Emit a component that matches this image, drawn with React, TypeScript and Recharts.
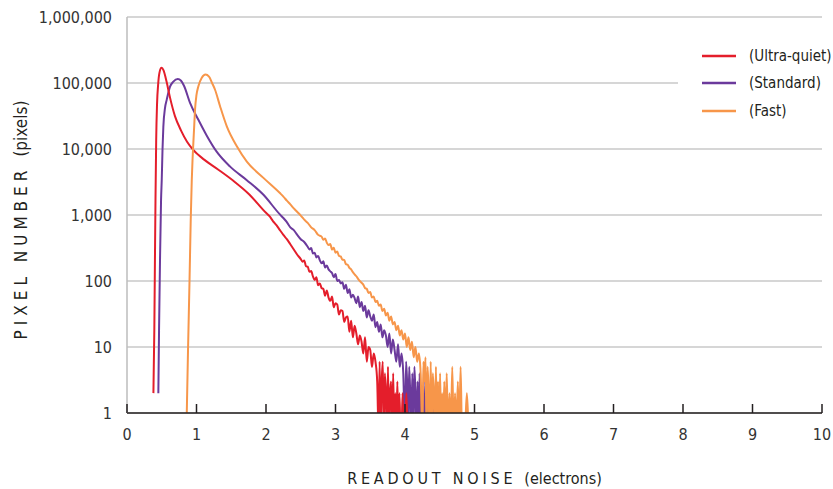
import { CartesianGrid, Legend, Line, LineChart, XAxis, YAxis } from 'recharts';

const FONT = "'Liberation Sans Narrow', 'Arial Narrow', 'DejaVu Sans Condensed', sans-serif";

const xTicks = [0, 1, 2, 3, 4, 5, 6, 7, 8, 9, 10];
const yTicks = [1, 10, 100, 1000, 10000, 100000, 1000000];

const seriesNames = ['(Ultra-quiet)', '(Standard)', '(Fast)'];
const seriesColors = ['#e41e2b', '#6b3a9c', '#f7964a'];

// [readout noise (e-), pixel count]; 0.5 stands in for an empty bin (below the axis)
const ultraQuiet: [number, number][] = [
  [0.38, 2], [0.393, 18], [0.402, 210], [0.41, 1700], [0.42, 13800], [0.432, 47000],
  [0.449, 98000], [0.468, 145000], [0.497, 170000], [0.526, 155000], [0.569, 105000],
  [0.619, 60000], [0.69, 31500], [0.778, 19000], [0.864, 12900], [0.95, 9800],
  [1.11, 6900], [1.31, 4900], [1.53, 3300], [1.76, 2050], [2.0, 1080],
  [2.05, 960], [2.1, 810], [2.15, 700], [2.2, 590], [2.25, 500], [2.3, 430], [2.35, 360],
  [2.4, 300], [2.45, 250], [2.5, 215], [2.525, 196], [2.55, 205], [2.575, 168], [2.6, 165],
  [2.625, 138], [2.65, 142], [2.675, 118], [2.7, 104], [2.725, 114], [2.75, 86], [2.775, 92],
  [2.8, 78], [2.825, 76], [2.85, 60], [2.875, 72], [2.9, 56], [2.925, 50], [2.95, 58],
  [2.975, 40], [3.0, 46], [3.025, 44], [3.05, 31], [3.075, 36], [3.1, 35], [3.125, 24],
  [3.15, 28], [3.175, 29], [3.2, 17], [3.225, 25], [3.25, 14], [3.275, 21], [3.3, 16],
  [3.325, 11], [3.35, 15], [3.375, 12], [3.4, 8], [3.425, 14], [3.45, 6], [3.475, 10],
  [3.5, 9], [3.525, 5], [3.55, 8], [3.575, 6], [3.6, 3], [3.62, 0.5], [3.635, 6],
  [3.65, 0.5], [3.665, 3], [3.68, 6], [3.695, 0.5], [3.71, 4], [3.725, 2], [3.74, 0.5],
  [3.755, 5], [3.77, 0.5], [3.785, 2], [3.8, 3], [3.815, 0.5], [3.83, 4], [3.845, 0.5],
  [3.86, 2], [3.875, 0.5], [3.89, 3], [3.905, 0.5], [3.92, 2], [3.935, 0.5], [3.95, 0.5],
  [3.965, 2], [3.98, 0.5], [4.0, 0.5], [4.02, 2], [4.04, 0.5],
];

const standard: [number, number][] = [
  [0.451, 2], [0.461, 18], [0.475, 210], [0.49, 1700], [0.5, 3450], [0.511, 9800],
  [0.523, 21800], [0.547, 42000], [0.572, 56000], [0.619, 88000], [0.667, 105000],
  [0.73, 115000], [0.778, 108000], [0.82, 91000], [0.907, 50000], [1.027, 27700],
  [1.148, 15900], [1.29, 9100], [1.48, 5450], [1.72, 3400], [1.96, 2040],
  [2.2, 1020], [2.25, 900], [2.3, 780], [2.35, 650], [2.4, 590], [2.45, 500], [2.5, 430],
  [2.55, 390], [2.6, 330], [2.625, 300], [2.65, 315], [2.675, 262], [2.7, 268], [2.725, 228],
  [2.75, 240], [2.775, 205], [2.8, 186], [2.825, 200], [2.85, 160], [2.875, 172], [2.9, 150],
  [2.925, 140], [2.95, 132], [2.975, 114], [3.0, 128], [3.025, 100], [3.05, 104], [3.075, 92],
  [3.1, 96], [3.125, 76], [3.15, 88], [3.175, 66], [3.2, 75], [3.225, 56], [3.25, 62],
  [3.275, 55], [3.3, 46], [3.325, 58], [3.35, 40], [3.375, 48], [3.4, 35], [3.425, 42],
  [3.45, 28], [3.475, 36], [3.5, 29], [3.525, 25], [3.55, 31], [3.575, 20], [3.6, 24],
  [3.625, 17], [3.65, 22], [3.675, 14], [3.7, 18], [3.725, 15], [3.75, 10], [3.775, 16],
  [3.8, 8], [3.825, 13], [3.85, 9], [3.875, 6], [3.9, 11], [3.925, 5], [3.95, 8], [3.975, 4],
  [4.0, 0.5], [4.015, 6], [4.03, 3], [4.045, 0.5], [4.06, 5], [4.075, 2], [4.09, 0.5],
  [4.105, 4], [4.12, 0.5], [4.135, 5], [4.15, 2], [4.165, 0.5], [4.18, 3], [4.195, 0.5],
  [4.21, 4], [4.225, 0.5], [4.24, 2], [4.255, 0.5], [4.27, 3], [4.285, 0.5], [4.3, 2],
  [4.315, 0.5], [4.33, 0.5], [4.345, 2], [4.36, 0.5], [4.38, 2], [4.4, 0.5], [4.43, 2],
  [4.45, 0.5],
];

const fast: [number, number][] = [
  [0.86, 1], [0.878, 9], [0.9, 105], [0.917, 850], [0.932, 3400], [0.943, 6900],
  [0.955, 12600], [0.968, 23400], [0.979, 39600], [1.0, 66000], [1.027, 89000],
  [1.076, 120000], [1.13, 134000], [1.18, 125000], [1.224, 100000], [1.267, 79000],
  [1.339, 44500], [1.436, 22000], [1.58, 11000], [1.724, 6450], [1.963, 3650],
  [2.2, 2150], [2.25, 1900], [2.3, 1650], [2.35, 1450], [2.4, 1260], [2.45, 1110], [2.5, 980],
  [2.55, 850], [2.6, 760], [2.65, 650], [2.7, 590], [2.75, 500], [2.8, 470], [2.825, 420],
  [2.85, 440], [2.875, 380], [2.9, 350], [2.925, 365], [2.95, 300], [2.975, 318], [3.0, 268],
  [3.025, 280], [3.05, 240], [3.075, 236], [3.1, 210], [3.125, 208], [3.15, 180], [3.175, 176],
  [3.2, 158], [3.225, 150], [3.25, 136], [3.275, 126], [3.3, 118], [3.325, 108], [3.35, 100],
  [3.375, 94], [3.4, 88], [3.425, 78], [3.45, 76], [3.475, 66], [3.5, 68], [3.525, 56],
  [3.55, 58], [3.575, 48], [3.6, 50], [3.625, 42], [3.65, 44], [3.675, 35], [3.7, 38],
  [3.725, 30], [3.75, 33], [3.775, 25], [3.8, 29], [3.825, 22], [3.85, 24], [3.875, 18],
  [3.9, 21], [3.925, 15], [3.95, 18], [3.975, 13], [4.0, 16], [4.025, 10], [4.05, 14],
  [4.075, 9], [4.1, 12], [4.125, 7], [4.15, 10], [4.175, 6], [4.2, 8], [4.225, 4],
  [4.25, 0.5], [4.265, 6], [4.28, 3], [4.295, 7], [4.31, 0.5], [4.325, 5], [4.34, 2],
  [4.355, 0.5], [4.37, 6], [4.385, 0.5], [4.4, 4], [4.415, 2], [4.43, 0.5], [4.445, 5],
  [4.46, 0.5], [4.475, 3], [4.49, 0.5], [4.505, 4], [4.52, 0.5], [4.535, 2], [4.55, 0.5],
  [4.565, 3], [4.58, 0.5], [4.6, 4], [4.62, 0.5], [4.64, 2], [4.66, 0.5], [4.68, 5],
  [4.7, 0.5], [4.72, 2], [4.74, 0.5], [4.76, 3], [4.78, 0.5], [4.8, 5], [4.82, 0.5],
  [4.86, 0.5], [4.89, 2], [4.92, 0.5], [4.94, 0.5],
];

const toPoints = (pairs: [number, number][]) => pairs.map(([x, y]) => ({ x, y }));

const XTick = ({ x, y, payload }: any) => (
  <g>
    <line x1={x} x2={x} y1={y} y2={y - 9} stroke="#231f20" strokeWidth={1.5} />
    <text x={x} y={y + 27} textAnchor="middle" fontSize={16} fill="#333" fontFamily={FONT}>
      {payload.value}
    </text>
  </g>
);

const XTitle = ({ viewBox }: any) => {
  const cx = viewBox.x + viewBox.width / 2;
  return (
    <text x={cx} y={484} textAnchor="middle" fontSize={16} fill="#231f20" fontFamily={FONT}>
      <tspan letterSpacing={3.8}>READOUT NOISE</tspan>
      <tspan dx={8}>(electrons)</tspan>
    </text>
  );
};

const YTitle = () => (
  <text
    x={27}
    y={220}
    transform="rotate(-90, 27, 220)"
    textAnchor="middle"
    fontSize={17}
    fill="#231f20"
    fontFamily={FONT}
  >
    <tspan letterSpacing={5}>PIXEL NUMBER</tspan>
    <tspan dx={9}>(pixels)</tspan>
  </text>
);

const LegendBox = () => (
  <div
    style={{
      background: '#fff',
      paddingLeft: 24,
      fontFamily: FONT,
      fontSize: 15,
      color: '#231f20',
      whiteSpace: 'nowrap',
    }}
  >
    {seriesNames.map((name, i) => (
      <div key={name} style={{ display: 'flex', alignItems: 'center', height: 27.5 }}>
        <svg width={34} height={4} style={{ marginRight: 13, flexShrink: 0 }}>
          <line x1={0} x2={34} y1={2} y2={2} stroke={seriesColors[i]} strokeWidth={2.5} />
        </svg>
        <span>{name}</span>
      </div>
    ))}
  </div>
);

const App = () => (
  <div style={{ position: 'absolute', left: 0, top: 0 }}>
    <LineChart width={833} height={489} margin={{ top: 17, right: 11, left: 0, bottom: 0 }}>
      <CartesianGrid vertical={false} stroke="#c8c8c8" strokeWidth={1.5} />
      <XAxis
        type="number"
        dataKey="x"
        domain={[0, 10]}
        ticks={xTicks}
        interval={0}
        height={76}
        axisLine={{ stroke: '#231f20', strokeWidth: 1.5 }}
        tickLine={false}
        tickSize={0}
        tickMargin={0}
        tick={<XTick />}
        label={<XTitle />}
      />
      <YAxis
        scale="log"
        domain={[1, 1000000]}
        allowDataOverflow
        ticks={yTicks}
        interval={0}
        width={127}
        axisLine={{ stroke: '#bdbdbd', strokeWidth: 1.5 }}
        tickLine={false}
        tickSize={0}
        tickMargin={15}
        tick={{ fontSize: 16, fill: '#333', fontFamily: FONT }}
        tickFormatter={(v: number) => v.toLocaleString('en-US')}
        label={<YTitle />}
      />
      <Legend
        layout="vertical"
        align="center"
        verticalAlign="middle"
        wrapperStyle={{ left: 678, top: 42, width: 155 }}
        content={<LegendBox />}
      />
      <Line data={toPoints(standard)} dataKey="y" type="monotone" stroke={seriesColors[1]} strokeWidth={2} dot={false} isAnimationActive={false} />
      <Line data={toPoints(ultraQuiet)} dataKey="y" type="monotone" stroke={seriesColors[0]} strokeWidth={2} dot={false} isAnimationActive={false} />
      <Line data={toPoints(fast)} dataKey="y" type="monotone" stroke={seriesColors[2]} strokeWidth={2} dot={false} isAnimationActive={false} />
    </LineChart>
  </div>
);

export default App;
